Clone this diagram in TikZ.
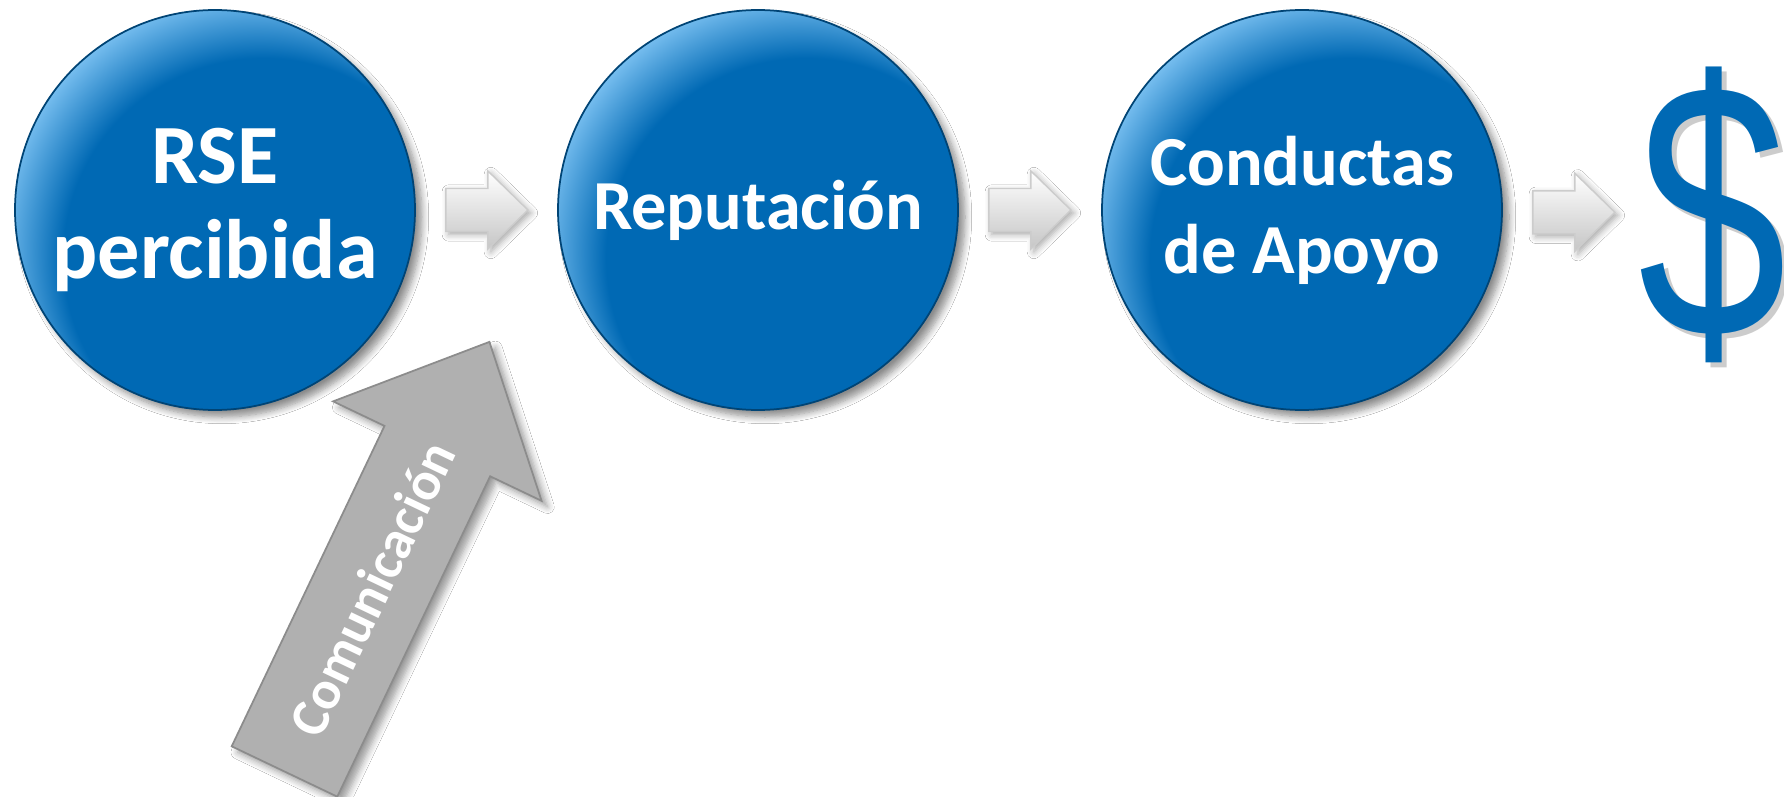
\documentclass[tikz,border=0pt]{standalone}
\usepackage{fontspec}
\setmainfont{Carlito}
\newfontfamily\dollarfont{Liberation Sans}
\usetikzlibrary{calc, shadows.blur}
\definecolor{rseblue}{RGB}{0, 105, 180}
\definecolor{rselight}{RGB}{130, 198, 245}
\pgfdeclareradialshading{rseglow}{\pgfpoint{12bp}{-12bp}}{color(0bp)=(rseblue); color(25bp)=(rseblue); color(32bp)=(rselight); color(50bp)=(rselight)}

\begin{document}
\begin{tikzpicture}[
        bola/.style={
            circle,
            minimum size=4cm,
            inner sep=0pt,
            shade,
            shading=rseglow,
            draw=rseblue!65!black,
            line width=0.5pt,
            blur shadow={shadow xshift=0.07cm, shadow yshift=-0.07cm, shadow blur steps=8, shadow opacity=45},
            text=white,
            align=center
        },
        flecha/.style={
            top color=white,
            bottom color=gray!45,
            draw=gray!40,
            line width=0.4pt,
            blur shadow={shadow xshift=0.03cm, shadow yshift=-0.03cm, shadow blur steps=5, shadow opacity=35}
        },
        flechagris/.style={
            fill=black!31,
            draw=black!45,
            line width=0.5pt,
            blur shadow={shadow xshift=0.06cm, shadow yshift=-0.06cm, shadow blur steps=6, shadow opacity=40}
        },
        dolarfont/.style={
            inner sep=0pt,
            anchor=base west,
            font=\dollarfont\fontsize{104}{104}\selectfont
        }
    ]
    \path[use as bounding box, fill=white] (0,0) rectangle (17.84,-7.97);

    \node[bola, font=\bfseries\fontsize{24}{27}\selectfont] (rse) at (2.15,-2.10) {RSE\\percibida};
    \node[bola, font=\bfseries\fontsize{20}{24}\selectfont] (reput) at (7.58,-2.10) {Reputación};
    \node[bola, font=\bfseries\fontsize{20}{25}\selectfont] (conduct) at (13.02,-2.10) {Conductas\\de Apoyo};

    % signo de dolar con sombra
    \node[dolarfont, text=black!20] at (16.43,-3.42) {\scalebox{0.73}[1]{\$}};
    \node[dolarfont, text=rseblue] (dolar) at (16.38,-3.37) {\scalebox{0.73}[1]{\$}};

    \foreach \a/\b in {rse/reput, reput/conduct, conduct/dolar}{
        \coordinate (m) at ($(\a.east)!0.71cm!(\b.west)$);
        \draw[flecha, shift={(m)}] (-0.41,0.215) -- (0.01,0.215) -- (0.01,0.39) -- (0.41,0) -- (0.01,-0.39) -- (0.01,-0.215) -- (-0.41,-0.215) -- cycle;
    }

    % flecha de comunicacion
    \begin{scope}[shift={(2.845,-7.715)}, rotate=64.5]
        \draw[flechagris] (0,0.585) -- (3.55,0.585) -- (3.55,1.155) -- (4.76,0) -- (3.55,-1.155) -- (3.55,-0.585) -- (0,-0.585) -- cycle;
        \node[rotate=64.5, text=white, font=\bfseries\fontsize{15.5}{16}\selectfont] (comun) at (2.03,0) {Comunicación};
    \end{scope}
\end{tikzpicture}
\end{document}
